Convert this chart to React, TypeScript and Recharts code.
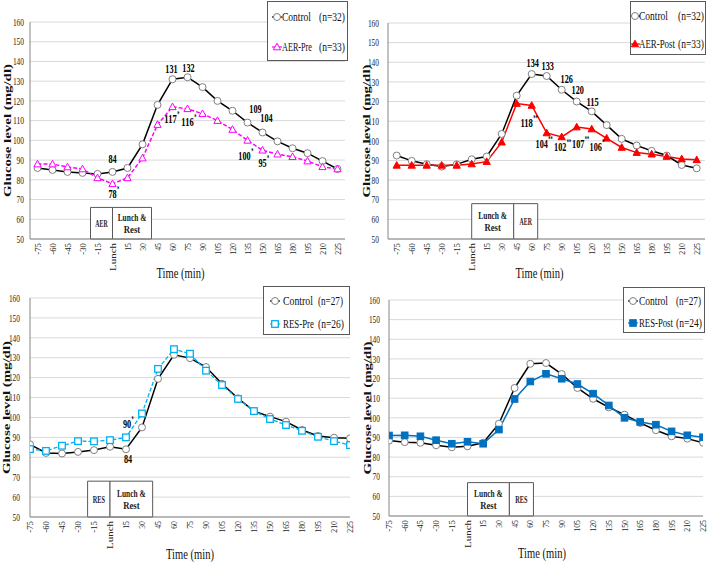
import React from 'react';
import { LineChart, Line, XAxis, YAxis, CartesianGrid, ReferenceArea, LabelList, Legend } from 'recharts';

const SERIF = "'Liberation Serif', 'DejaVu Serif', 'Times New Roman', 'Liberation Sans', serif";
const SX = 0.8;
const FS = { fontFamily: SERIF };

// ---------- data ----------
const times = [-75, -60, -45, -30, -15, 0, 15, 30, 45, 60, 75, 90, 105, 120, 135, 150, 165, 180, 195, 210, 225];
const timeLabels = ['-75', '-60', '-45', '-30', '-15', 'Lunch', '15', '30', '45', '60', '75', '90', '105', '120', '135', '150', '165', '180', '195', '210', '225'];
const yTicks = [50, 60, 70, 80, 90, 100, 110, 120, 130, 140, 150, 160];

const p1Control = [86, 85, 84, 83.5, 83, 84, 86, 98, 118, 131, 132, 127, 120, 115, 109, 104, 99.5, 96, 93.5, 89.5, 85.5];
const p1AerPre = [88, 88, 86.5, 85.5, 81, 78, 81, 91, 108, 117, 116, 113.5, 110, 105.5, 100, 95, 93, 91.7, 89.5, 86.6, 85.5];
const p1ControlNotes = ['', '', '', '', '', '84', '', '', '', '131', '132', '', '', '', '109', '104', '', '', '', '', ''];
const p1AerPreNotes = ['', '', '', '', '', '78*', '', '', '', '117*', '116*', '', '', '', '100*', '95*', '', '', '', '', ''];

const p2Control = [92.5, 89.8, 88.1, 86.9, 88, 90.6, 92, 103.5, 123, 134, 133, 126, 120, 115, 108, 101, 97.6, 94.9, 92.5, 87.7, 86];
const p2AerPost = [87.5, 87.5, 87.5, 87.5, 87.5, 88.2, 89.4, 99.3, 119, 118, 104, 102, 107, 106, 101.3, 96.6, 94, 93.2, 92, 90.8, 90.3];
const p2ControlNotes = ['', '', '', '', '', '', '', '', '', '134', '133', '126', '120', '115', '', '', '', '', '', '', ''];
const p2AerPostNotes = ['', '', '', '', '', '', '', '', '', '118**', '104**', '102**', '107**', '106*', '', '', '', '', '', '', ''];

const p3Control = [86.5, 82.2, 81.9, 82.7, 83.6, 85.3, 84, 95, 119.4, 131.5, 129.8, 125.3, 116.9, 109.6, 103.2, 100.4, 97.9, 93.7, 90.7, 89.8, 89.5];
const p3ResPre = [84.1, 83.2, 85.8, 88.1, 88, 88.6, 90, 102, 124.4, 134.3, 132, 123.5, 116.3, 109.3, 103.2, 99.2, 96.2, 93.3, 90.3, 88.1, 86.1];
const p3ControlNotes = ['', '', '', '', '', '', '84', '', '', '', '', '', '', '', '', '', '', '', '', '', ''];
const p3ResPreNotes = ['', '', '', '', '', '', '90*', '', '', '', '', '', '', '', '', '', '', '', '', '', ''];

const p4Control = [88.4, 87.6, 87.3, 86, 85, 85.5, 87.3, 97, 115.2, 127.5, 127.9, 122.3, 115.2, 109.7, 105.3, 101.6, 97.4, 93.7, 90.6, 89.4, 87.3];
const p4ResPost = [91, 91.1, 90.6, 88.6, 86.8, 87.8, 86.8, 94, 109.6, 118.5, 122.4, 119.9, 117.2, 112.3, 106.3, 100, 97.9, 96.5, 93.1, 91.1, 90.1];
const emptyNotes = times.map(() => '');

const p1Names = ['Control', 'AER-Pre'];
const p1Counts = ['(n=32)', '(n=33)'];
const p2Names = ['Control', 'AER-Post'];
const p2Counts = ['(n=32)', '(n=33)'];
const p3Names = ['Control', 'RES-Pre'];
const p3Counts = ['(n=27)', '(n=26)'];
const p4Names = ['Control', 'RES-Post'];
const p4Counts = ['(n=27)', '(n=24)'];

const p1BoxLabels = [['AER'], ['Lunch &', 'Rest']];
const p2BoxLabels = [['Lunch &', 'Rest'], ['AER']];
const p3BoxLabels = [['RES'], ['Lunch &', 'Rest']];
const p4BoxLabels = [['Lunch &', 'Rest'], ['RES']];

// ---------- text fitting (the original figure uses a condensed serif) ----------
let measureCtx: CanvasRenderingContext2D | null = null;
const measureText = (text: string, size: number, bold: boolean) => {
  if (typeof document === 'undefined') return text.length * size * 0.5;
  if (!measureCtx) measureCtx = document.createElement('canvas').getContext('2d');
  if (!measureCtx) return text.length * size * 0.5;
  measureCtx.font = `${bold ? 'bold ' : ''}${size}px ${SERIF}`;
  return measureCtx.measureText(text).width || text.length * size * 0.5;
};

interface FitProps {
  x: number; y: number; text: string; size: number; width: number;
  bold?: boolean; anchor?: 'start' | 'middle' | 'end'; rotate?: boolean; thick?: number; dy?: string; fill?: string;
}
const FitText = ({ x, y, text, size, width, bold, anchor = 'start', rotate, thick = 1, dy, fill = '#111' }: FitProps) => {
  const s = width / measureText(text, size, !!bold);
  const transform = rotate
    ? `translate(${x},${y}) rotate(-90) scale(${s},${thick})`
    : `translate(${x},${y}) scale(${s},1)`;
  return (
    <text transform={transform} textAnchor={anchor} dy={dy} style={FS} fontSize={size} fontWeight={bold ? 'bold' : 'normal'} fill={fill}>
      {text}
    </text>
  );
};

// ---------- markers ----------
type MarkerFn = (cx: number, cy: number, key?: string) => React.ReactElement;
const openCircle: MarkerFn = (cx, cy, key) => <circle key={key} cx={cx} cy={cy} r={3.5} fill="#fff" stroke="#808080" strokeWidth={1} />;
const triangle = (color: string, filled: boolean): MarkerFn => (cx, cy, key) => (
  <polygon key={key} points={`${cx},${cy - 3.8} ${cx - 3.6},${cy + 2.8} ${cx + 3.6},${cy + 2.8}`} fill={filled ? color : '#fff'} stroke={color} strokeWidth={1} />
);
const square = (color: string, filled: boolean): MarkerFn => (cx, cy, key) => (
  <rect key={key} x={cx - 3.3} y={cy - 3.3} width={6.6} height={6.6} fill={filled ? color : '#fff'} stroke={color} strokeWidth={filled ? 1 : 1.3} />
);

const dotFn = (m: MarkerFn) => (props: any) => {
  const { cx, cy, index } = props;
  if (cx == null || cy == null) return <g key={`e-${index}`} />;
  return m(cx, cy, `d-${index}`);
};

const tickLen = (s: string) => (s === 'Lunch' ? 28 : s.length * 3.9);
const yTickLen = (s: string) => s.length * 3.7;
const noteLen = (s: string) => s.length * 4.1;

// ---------- ticks / labels ----------
const XTick = (props: any) => {
  const { x, y, payload } = props;
  const i = times.indexOf(payload.value);
  const label = i >= 0 ? timeLabels[i] : String(payload.value);
  return <FitText x={x} y={y} text={label} size={11} width={tickLen(label)} anchor="end" rotate thick={SX} dy="0.35em" fill="#222" />;
};
const YTick = (props: any) => {
  const { x, y, payload } = props;
  const s = String(payload.value);
  return <FitText x={x} y={y} text={s} size={10.5} width={yTickLen(s)} anchor="end" dy="0.35em" fill="#222" />;
};

const noteContent = (offsets: Record<string, [number, number]>) => (props: any) => {
  const value = props.value;
  if (!value) return null;
  const px = props.x ?? props.viewBox?.x;
  const py = props.y ?? props.viewBox?.y;
  if (px == null || py == null) return null;
  const off = offsets[value] || [0, -8];
  const m = String(value).match(/^([^*]*)(\**)$/);
  const num = m ? m[1] : String(value);
  const stars = m ? m[2] : '';
  const cx = px + off[0];
  const cy = py + off[1];
  const w = noteLen(num);
  return (
    <g>
      <FitText x={cx} y={cy} text={num} size={12.5} width={w} bold anchor="middle" fill="#000" />
      {stars ? <FitText x={cx + w / 2 + 0.5} y={cy - 6} text={stars} size={8} width={stars.length * 2.2} bold fill="#000" /> : null}
    </g>
  );
};

const boxLabel = (lines: string[]) => (props: any) => {
  const vb = props.viewBox;
  if (!vb) return null;
  const cx = vb.x + vb.width / 2;
  const cy = vb.y + vb.height / 2;
  const lh = 12;
  const start = cy - ((lines.length - 1) * lh) / 2;
  return (
    <g>
      {lines.map((l, i) => (
        <FitText key={i} x={cx} y={start + i * lh} text={l} size={10} width={l.length * 4.1} bold anchor="middle" dy="0.35em" fill="#222" />
      ))}
    </g>
  );
};

// ---------- legend ----------
interface LegendRow { name: string; count: string; y: number; color: string; marker: MarkerFn; nameW: number; countW: number; }
interface LegendCfg { left: number; top: number; w: number; h: number; rowY: [number, number]; iconX: number; nameX: number; countX: number; nameW: [number, number]; countW: [number, number]; }
const LegendBox = ({ cfg, rows }: { cfg: LegendCfg; rows: LegendRow[] }) => (
  <div style={{ width: cfg.w, height: cfg.h, border: '1px solid #595959', background: '#fff', boxSizing: 'border-box', position: 'relative' }}>
    <svg width={cfg.w - 2} height={cfg.h - 2} style={{ position: 'absolute', left: 0, top: 0 }}>
      {rows.map((r, i) => (
        <g key={i}>
          <line x1={Math.max(0, cfg.iconX - 5)} x2={cfg.iconX + 5} y1={r.y} y2={r.y} stroke={r.color} strokeWidth={1.2} />
          {r.marker(cfg.iconX, r.y)}
          <FitText x={cfg.nameX} y={r.y} text={r.name} size={12.5} width={r.nameW} dy="0.35em" />
          <FitText x={cfg.countX} y={r.y} text={r.count} size={12.5} width={r.countW} dy="0.35em" />
        </g>
      ))}
    </svg>
  </div>
);

// ---------- panel ----------
interface SeriesCfg { values: number[]; notes: string[]; offsets: Record<string, [number, number]>; color: string; width: number; dash?: string; marker: MarkerFn; }
interface PanelCfg {
  left: number; top: number; width: number; height: number;
  margin: { top: number; right: number; left: number; bottom: number };
  yAxisWidth: number; yTickMargin: number; yTitleX: number;
  xDomain: [number, number]; xAxisHeight: number; xTitleDx: number; xTitleY: number;
  boxes: { x1: number; x2: number; y2: number }[]; boxLabels: string[][];
  legend: LegendCfg;
  names: string[]; counts: string[];
  a: SeriesCfg; b: SeriesCfg;
}

const Panel = ({ cfg }: { cfg: PanelCfg }) => {
  const data = times.map((t, i) => ({ t, a: cfg.a.values[i], b: cfg.b.values[i], na: cfg.a.notes[i], nb: cfg.b.notes[i] }));
  const rows: LegendRow[] = [
    { name: cfg.names[0], count: cfg.counts[0], y: cfg.legend.rowY[0], color: cfg.a.color, marker: cfg.a.marker, nameW: cfg.legend.nameW[0], countW: cfg.legend.countW[0] },
    { name: cfg.names[1], count: cfg.counts[1], y: cfg.legend.rowY[1], color: cfg.b.color, marker: cfg.b.marker, nameW: cfg.legend.nameW[1], countW: cfg.legend.countW[1] },
  ];
  return (
    <div style={{ position: 'absolute', left: cfg.left, top: cfg.top, width: cfg.width, height: cfg.height }}>
      <LineChart width={cfg.width} height={cfg.height} data={data} margin={cfg.margin}>
        <CartesianGrid vertical={false} stroke="#d9d9d9" strokeWidth={1} />
        <XAxis
          dataKey="t"
          type="number"
          domain={cfg.xDomain}
          ticks={times}
          interval={0}
          allowDataOverflow
          height={cfg.xAxisHeight}
          axisLine={{ stroke: '#868686' }}
          tickLine={false}
          tickSize={4}
          tickMargin={0}
          tick={<XTick />}
          label={{
            content: (p: any) => {
              const vb = p.viewBox || { x: 0, width: 0 };
              return <FitText x={vb.x + vb.width / 2 + cfg.xTitleDx} y={cfg.xTitleY} text="Time (min)" size={15} width={48} anchor="middle" />;
            },
          }}
        />
        <YAxis
          type="number"
          domain={[50, 160]}
          ticks={yTicks}
          interval={0}
          width={cfg.yAxisWidth}
          axisLine={{ stroke: '#868686' }}
          tickLine={false}
          tickSize={6}
          tickMargin={cfg.yTickMargin}
          tick={<YTick />}
          label={{
            content: (p: any) => {
              const vb = p.viewBox || { y: 0, height: 0 };
              return <FitText x={cfg.yTitleX} y={vb.y + vb.height / 2} text="Glucose level (mg/dl)" size={14} width={133} bold anchor="middle" rotate thick={SX} />;
            },
          }}
        />
        {cfg.boxes.map((bx, i) => (
          <ReferenceArea
            key={i}
            x1={bx.x1}
            x2={bx.x2}
            y1={50}
            y2={bx.y2}
            fill="#fff"
            fillOpacity={1}
            stroke="#595959"
            strokeWidth={1}
            label={boxLabel(cfg.boxLabels[i])}
          />
        ))}
        <Line
          dataKey="a"
          stroke={cfg.a.color}
          strokeWidth={cfg.a.width}
          strokeDasharray={cfg.a.dash}
          dot={dotFn(cfg.a.marker)}
          activeDot={false}
          isAnimationActive={false}
        >
          <LabelList dataKey="na" content={noteContent(cfg.a.offsets)} />
        </Line>
        <Line
          dataKey="b"
          stroke={cfg.b.color}
          strokeWidth={cfg.b.width}
          strokeDasharray={cfg.b.dash}
          dot={dotFn(cfg.b.marker)}
          activeDot={false}
          isAnimationActive={false}
        >
          <LabelList dataKey="nb" content={noteContent(cfg.b.offsets)} />
        </Line>
        <Legend
          layout="horizontal"
          align="center"
          verticalAlign="middle"
          wrapperStyle={{ position: 'absolute', left: cfg.legend.left, top: cfg.legend.top, width: cfg.legend.w, height: cfg.legend.h }}
          content={() => <LegendBox cfg={cfg.legend} rows={rows} />}
        />
      </LineChart>
    </div>
  );
};

const MAGENTA = '#FF00FF';
const RED = '#FF0000';
const CYAN = '#00B0F0';
const BLUE = '#0070C0';

const panels: PanelCfg[] = [
  {
    left: 0, top: 0, width: 355, height: 290,
    margin: { top: 22, right: 10, left: 0, bottom: 0 },
    yAxisWidth: 30, yTickMargin: 0, yTitleX: 11,
    xDomain: [-82.5, 232.5], xAxisHeight: 51, xTitleDx: -7, xTitleY: 278,
    boxes: [{ x1: -22, x2: 0, y2: 66 }, { x1: 0, x2: 39, y2: 66 }], boxLabels: p1BoxLabels,
    legend: { left: 267, top: 1, w: 81, h: 60, rowY: [15, 45], iconX: 9, nameX: 14, countX: 51, nameW: [29, 30], countW: [26, 26] },
    names: p1Names, counts: p1Counts,
    a: { values: p1Control, notes: p1ControlNotes, offsets: { '84': [0, -9], '131': [-1, -6], '132': [1, -5], '109': [8, -10], '104': [4, -10] }, color: '#000', width: 1.5, marker: openCircle },
    b: { values: p1AerPre, notes: p1AerPreNotes, offsets: { '78*': [0, 14], '117*': [-2, 16], '116*': [0, 17], '100*': [-3, 20], '95*': [0, 17] }, color: MAGENTA, width: 1.5, dash: '4 2', marker: triangle(MAGENTA, false) },
  },
  {
    left: 355, top: 0, width: 354, height: 290,
    margin: { top: 23, right: 4, left: 0, bottom: 0 },
    yAxisWidth: 33, yTickMargin: 3, yTitleX: 15,
    xDomain: [-83.7, 233.3], xAxisHeight: 51, xTitleDx: -7, xTitleY: 278,
    boxes: [{ x1: 0, x2: 42, y2: 68 }, { x1: 42, x2: 66, y2: 68 }], boxLabels: p2BoxLabels,
    legend: { left: 275, top: 1, w: 76, h: 54, rowY: [14, 42], iconX: 4, nameX: 8, countX: 47, nameW: [29, 36], countW: [26, 26] },
    names: p2Names, counts: p2Counts,
    a: { values: p2Control, notes: p2ControlNotes, offsets: { '134': [1, -7], '133': [1, -6], '126': [5, -7], '120': [1, -8], '115': [1, -5] }, color: '#000', width: 1.5, marker: openCircle },
    b: { values: p2AerPost, notes: p2AerPostNotes, offsets: { '118**': [-5, 22], '104**': [-5, 15], '102**': [-1.5, 14], '107**': [1.5, 21], '106*': [4, 22] }, color: RED, width: 1.5, marker: triangle(RED, true) },
  },
  {
    left: 0, top: 280, width: 355, height: 286,
    margin: { top: 18, right: 5, left: 0, bottom: 0 },
    yAxisWidth: 30, yTickMargin: 4, yTitleX: 10,
    xDomain: [-75, 225], xAxisHeight: 49, xTitleDx: 0, xTitleY: 279,
    boxes: [{ x1: -21, x2: 0, y2: 68 }, { x1: 0, x2: 40, y2: 68 }], boxLabels: p3BoxLabels,
    legend: { left: 263, top: 6, w: 87, h: 49, rowY: [14, 37], iconX: 11, nameX: 19, countX: 54, nameW: [30, 31], countW: [25, 26] },
    names: p3Names, counts: p3Counts,
    a: { values: p3Control, notes: p3ControlNotes, offsets: { '84': [2, 14] }, color: '#000', width: 1.5, marker: openCircle },
    b: { values: p3ResPre, notes: p3ResPreNotes, offsets: { '90*': [1, -9] }, color: CYAN, width: 1.3, dash: '4 2', marker: square(CYAN, false) },
  },
  {
    left: 355, top: 280, width: 354, height: 286,
    margin: { top: 20, right: 6, left: 0, bottom: 0 },
    yAxisWidth: 34, yTickMargin: 3, yTitleX: 16,
    xDomain: [-75, 225], xAxisHeight: 50, xTitleDx: -4, xTitleY: 278,
    boxes: [{ x1: 0, x2: 40, y2: 67 }, { x1: 40, x2: 63, y2: 67 }], boxLabels: p4BoxLabels,
    legend: { left: 268, top: 7, w: 82, h: 46, rowY: [13, 35], iconX: 9, nameX: 15, countX: 52, nameW: [29, 34], countW: [25, 26] },
    names: p4Names, counts: p4Counts,
    a: { values: p4Control, notes: emptyNotes, offsets: {}, color: '#000', width: 1.5, marker: openCircle },
    b: { values: p4ResPost, notes: emptyNotes, offsets: {}, color: BLUE, width: 1.5, marker: square(BLUE, true) },
  },
];

export default function App() {
  return (
    <div style={{ position: 'absolute', left: 0, top: 0, width: 709, height: 566, background: '#fff', overflow: 'hidden', fontFamily: SERIF }}>
      {panels.map((p, i) => (
        <Panel key={i} cfg={p} />
      ))}
    </div>
  );
}
